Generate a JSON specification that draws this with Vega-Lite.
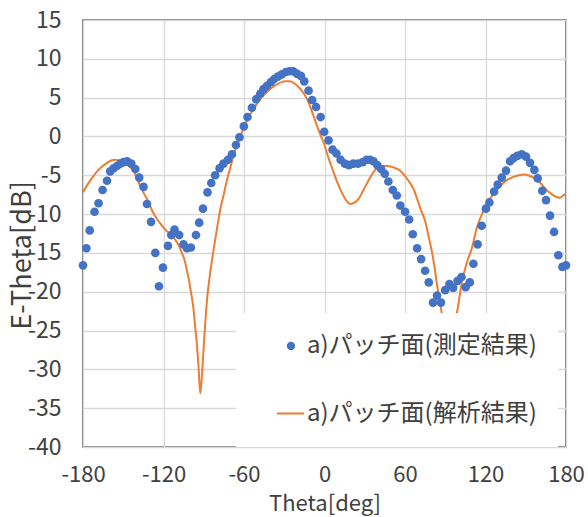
{
  "$schema": "https://vega.github.io/schema/vega-lite/v6.json",
  "width": 483,
  "height": 427,
  "autosize": "none",
  "padding": {"left": 83, "top": 20, "right": 22, "bottom": 70},
  "background": "white",
  "config": {
    "font": "Noto Sans CJK JP",
    "view": {"stroke": "#595959", "strokeWidth": 1.5},
    "axis": {
      "grid": true,
      "gridColor": "#d9d9d9",
      "gridWidth": 1.3,
      "domain": false,
      "ticks": false,
      "labelFlush": false,
      "labelOverlap": false,
      "labelBound": false,
      "labelFontSize": 23,
      "labelColor": "#404040",
      "labelFont": "Noto Sans CJK JP",
      "titleFont": "Noto Sans CJK JP",
      "titleFontSize": 23,
      "titleFontWeight": "normal",
      "titleColor": "#404040"
    },
    "legend": {
      "labelFont": "Noto Sans CJK JP",
      "labelFontSize": 24,
      "labelColor": "#404040",
      "labelLimit": 400,
      "fillColor": "white",
      "strokeColor": null,
      "orient": "none"
    }
  },
  "datasets": {
    "measured": [
      {"theta": -180, "db": -16.6}, {"theta": -177.5, "db": -14.4}, {"theta": -175, "db": -12.1},
      {"theta": -171.4, "db": -9.7}, {"theta": -168.4, "db": -8.6}, {"theta": -165.4, "db": -6.9},
      {"theta": -162.1, "db": -5.7}, {"theta": -159.7, "db": -4.5}, {"theta": -157.2, "db": -4.1},
      {"theta": -154.7, "db": -3.8}, {"theta": -152.2, "db": -3.5}, {"theta": -149.8, "db": -3.3},
      {"theta": -147.2, "db": -3.2}, {"theta": -144.0, "db": -3.5}, {"theta": -141.0, "db": -4.2},
      {"theta": -138.1, "db": -5.3}, {"theta": -134.9, "db": -6.5}, {"theta": -132.3, "db": -8.7},
      {"theta": -129.3, "db": -11.0}, {"theta": -126.1, "db": -15.0}, {"theta": -123.4, "db": -19.3},
      {"theta": -120.4, "db": -16.9}, {"theta": -116.7, "db": -14.1}, {"theta": -114.2, "db": -12.7},
      {"theta": -111.8, "db": -12.0}, {"theta": -108.3, "db": -12.7}, {"theta": -105.1, "db": -13.9},
      {"theta": -102.5, "db": -14.4}, {"theta": -99.6, "db": -14.3}, {"theta": -95.8, "db": -12.7},
      {"theta": -93.4, "db": -11.1}, {"theta": -90.6, "db": -9.3}, {"theta": -87.2, "db": -7.2},
      {"theta": -84.4, "db": -6.0}, {"theta": -81.5, "db": -5.0}, {"theta": -78.2, "db": -4.1},
      {"theta": -75.3, "db": -3.5}, {"theta": -72.0, "db": -3.0}, {"theta": -69.0, "db": -2.3},
      {"theta": -66.0, "db": -1.1}, {"theta": -63.4, "db": -0.1}, {"theta": -60.1, "db": 1.3},
      {"theta": -57.4, "db": 2.5}, {"theta": -54.1, "db": 3.7}, {"theta": -50.9, "db": 4.8},
      {"theta": -47.9, "db": 5.5}, {"theta": -45.5, "db": 6.1}, {"theta": -43.0, "db": 6.5},
      {"theta": -40.0, "db": 7.0}, {"theta": -37.5, "db": 7.4}, {"theta": -34.8, "db": 7.7},
      {"theta": -31.8, "db": 8.0}, {"theta": -28.8, "db": 8.3}, {"theta": -26.1, "db": 8.4},
      {"theta": -23.4, "db": 8.4}, {"theta": -20.6, "db": 8.1}, {"theta": -17.6, "db": 7.8},
      {"theta": -15.1, "db": 7.1}, {"theta": -11.9, "db": 5.9}, {"theta": -9.2, "db": 4.7},
      {"theta": -6.3, "db": 3.8}, {"theta": -2.9, "db": 2.5}, {"theta": -0.2, "db": 0.6},
      {"theta": 3.0, "db": -0.5}, {"theta": 6.0, "db": -1.7}, {"theta": 8.9, "db": -2.2},
      {"theta": 12.0, "db": -3.0}, {"theta": 15.2, "db": -3.5}, {"theta": 18.2, "db": -3.7},
      {"theta": 21.5, "db": -3.5}, {"theta": 25.0, "db": -3.5}, {"theta": 28.5, "db": -3.3},
      {"theta": 31.5, "db": -3.0}, {"theta": 34.0, "db": -3.0}, {"theta": 36.5, "db": -3.2},
      {"theta": 39.4, "db": -3.7}, {"theta": 42.2, "db": -4.2}, {"theta": 44.9, "db": -4.8},
      {"theta": 47.6, "db": -5.8}, {"theta": 50.9, "db": -6.9}, {"theta": 53.9, "db": -7.6},
      {"theta": 56.5, "db": -8.9}, {"theta": 60.1, "db": -9.7}, {"theta": 63.1, "db": -10.7},
      {"theta": 65.8, "db": -12.6}, {"theta": 69.0, "db": -14.4}, {"theta": 72.0, "db": -15.8},
      {"theta": 75.0, "db": -17.3}, {"theta": 77.7, "db": -18.8}, {"theta": 80.9, "db": -21.4},
      {"theta": 83.9, "db": -20.5}, {"theta": 86.8, "db": -21.4}, {"theta": 89.9, "db": -19.8},
      {"theta": 93.1, "db": -19.0}, {"theta": 95.9, "db": -19.5}, {"theta": 99.2, "db": -18.6},
      {"theta": 102.1, "db": -18.1}, {"theta": 105.2, "db": -19.4}, {"theta": 108.3, "db": -18.8},
      {"theta": 111.0, "db": -16.4}, {"theta": 114.1, "db": -13.9}, {"theta": 117.2, "db": -11.5},
      {"theta": 120.3, "db": -9.3}, {"theta": 122.9, "db": -8.5}, {"theta": 126.4, "db": -7.1},
      {"theta": 129.1, "db": -6.2}, {"theta": 132.1, "db": -5.3}, {"theta": 135.3, "db": -4.4},
      {"theta": 138.3, "db": -3.2}, {"theta": 140.8, "db": -2.8}, {"theta": 143.7, "db": -2.5},
      {"theta": 147.0, "db": -2.3}, {"theta": 150.2, "db": -2.6}, {"theta": 153.2, "db": -3.4},
      {"theta": 156.4, "db": -4.3}, {"theta": 158.9, "db": -5.4}, {"theta": 162.3, "db": -7.0},
      {"theta": 165.1, "db": -8.2}, {"theta": 168.1, "db": -10.2}, {"theta": 171.1, "db": -12.3},
      {"theta": 174.3, "db": -15.3}, {"theta": 177.3, "db": -16.8}, {"theta": 180, "db": -16.6}
    ],
    "analysis": [
      {"theta": -180, "db": -7.2}, {"theta": -177, "db": -6.3}, {"theta": -173, "db": -5.3},
      {"theta": -169.5, "db": -4.5}, {"theta": -166, "db": -3.9}, {"theta": -162, "db": -3.4},
      {"theta": -159, "db": -3.1}, {"theta": -156, "db": -3.0}, {"theta": -153, "db": -3.1},
      {"theta": -150, "db": -3.3}, {"theta": -146, "db": -3.8}, {"theta": -142, "db": -4.5},
      {"theta": -138.6, "db": -5.9}, {"theta": -135, "db": -7.2}, {"theta": -131, "db": -8.5},
      {"theta": -128.6, "db": -9.5}, {"theta": -125, "db": -10.6}, {"theta": -122, "db": -11.3},
      {"theta": -118.7, "db": -12.0}, {"theta": -115, "db": -12.6}, {"theta": -111.2, "db": -13.3},
      {"theta": -108.5, "db": -14.1}, {"theta": -106.3, "db": -15.0}, {"theta": -104, "db": -16.1},
      {"theta": -102.5, "db": -17.3}, {"theta": -101, "db": -18.5}, {"theta": -99.5, "db": -20.1},
      {"theta": -98, "db": -21.7}, {"theta": -96.4, "db": -24.5}, {"theta": -95, "db": -27.0},
      {"theta": -93.9, "db": -29.6}, {"theta": -92.6, "db": -33.1}, {"theta": -91.4, "db": -30.9},
      {"theta": -90.2, "db": -27.5}, {"theta": -88.9, "db": -24.1}, {"theta": -87.6, "db": -21.1},
      {"theta": -85.6, "db": -18.1}, {"theta": -82.7, "db": -14.6}, {"theta": -80, "db": -11.7},
      {"theta": -77.7, "db": -9.4}, {"theta": -75, "db": -7.4}, {"theta": -72.7, "db": -5.6},
      {"theta": -70, "db": -3.9}, {"theta": -67.8, "db": -2.4}, {"theta": -65, "db": -1.0},
      {"theta": -62.8, "db": 0.0}, {"theta": -59.5, "db": 1.4}, {"theta": -56.6, "db": 2.5},
      {"theta": -53, "db": 3.5}, {"theta": -50.4, "db": 4.2}, {"theta": -47, "db": 5.0},
      {"theta": -43, "db": 5.7}, {"theta": -39, "db": 6.3}, {"theta": -35.5, "db": 6.7},
      {"theta": -32, "db": 7.0}, {"theta": -29.3, "db": 7.1}, {"theta": -26, "db": 7.1},
      {"theta": -23, "db": 6.9}, {"theta": -19.5, "db": 6.4}, {"theta": -15.7, "db": 5.6},
      {"theta": -13, "db": 4.8}, {"theta": -10.8, "db": 3.9}, {"theta": -8.5, "db": 2.8},
      {"theta": -7.1, "db": 2.1}, {"theta": -5, "db": 1.1}, {"theta": -2.6, "db": 0.0},
      {"theta": 0, "db": -1.1}, {"theta": 1.9, "db": -2.2}, {"theta": 4.5, "db": -3.5},
      {"theta": 6.9, "db": -4.7}, {"theta": 10, "db": -6.1}, {"theta": 13.1, "db": -7.3},
      {"theta": 16, "db": -8.2}, {"theta": 19.3, "db": -8.7}, {"theta": 22.5, "db": -8.5},
      {"theta": 25.5, "db": -8.0}, {"theta": 29, "db": -6.9}, {"theta": 33, "db": -5.6},
      {"theta": 36.5, "db": -4.6}, {"theta": 40, "db": -4.0}, {"theta": 43, "db": -3.8},
      {"theta": 46.4, "db": -3.8}, {"theta": 50, "db": -3.9}, {"theta": 53, "db": -4.1},
      {"theta": 56.3, "db": -4.4}, {"theta": 60, "db": -5.1}, {"theta": 63, "db": -5.8},
      {"theta": 66.2, "db": -6.7}, {"theta": 69, "db": -8.0}, {"theta": 71.5, "db": -9.3},
      {"theta": 75, "db": -10.9}, {"theta": 78, "db": -13.2}, {"theta": 80, "db": -14.8},
      {"theta": 82, "db": -16.8}, {"theta": 83.7, "db": -18.9}, {"theta": 85.5, "db": -20.8},
      {"theta": 87.4, "db": -22.8}, {"theta": 89, "db": -25.0}, {"theta": 90.5, "db": -27.5},
      {"theta": 92, "db": -29.5}, {"theta": 93.5, "db": -27.5}, {"theta": 95, "db": -25.5},
      {"theta": 96.8, "db": -24.0}, {"theta": 98.6, "db": -22.8}, {"theta": 100.5, "db": -20.8},
      {"theta": 102.3, "db": -18.9}, {"theta": 106, "db": -16.3}, {"theta": 109.8, "db": -14.4},
      {"theta": 113.5, "db": -11.8}, {"theta": 118.4, "db": -9.6}, {"theta": 122, "db": -8.4},
      {"theta": 125.9, "db": -7.4}, {"theta": 130, "db": -6.6}, {"theta": 133.3, "db": -6.0},
      {"theta": 137, "db": -5.5}, {"theta": 140.8, "db": -5.2}, {"theta": 145, "db": -5.0},
      {"theta": 149.5, "db": -4.9}, {"theta": 153, "db": -5.1}, {"theta": 157, "db": -5.4},
      {"theta": 161, "db": -6.0}, {"theta": 164.4, "db": -6.7}, {"theta": 167.5, "db": -7.2},
      {"theta": 170.6, "db": -7.6}, {"theta": 173, "db": -7.8}, {"theta": 175.6, "db": -7.9},
      {"theta": 178, "db": -7.6}, {"theta": 180, "db": -7.3}
    ]
  },
  "encoding": {
    "x": {
      "field": "theta", "type": "quantitative",
      "scale": {"domain": [-180, 180], "nice": false, "zero": false},
      "axis": {"values": [-180, -120, -60, 0, 60, 120, 180], "labelExpr": "toString(datum.value)", "labelFontSize": 22, "title": "Theta[deg]", "titleFontSize": 22, "labelPadding": 17, "titleY": 46, "titleBaseline": "top"}
    },
    "y": {
      "field": "db", "type": "quantitative",
      "scale": {"domain": [-40, 15], "nice": false, "zero": false},
      "axis": {"values": [-40, -35, -30, -25, -20, -15, -10, -5, 0, 5, 10, 15], "tickCount": 12, "labelExpr": "toString(datum.value)", "title": "E-Theta[dB]", "labelPadding": 22, "titleFontSize": 27, "titleX": -47, "titleY": 235, "titleAngle": -90, "titleBaseline": "bottom", "titleAnchor": null}
    }
  },
  "layer": [
    {
      "data": {"name": "analysis"},
      "transform": [{"calculate": "'a)パッチ面(解析結果)'", "as": "series"}],
      "mark": {"type": "line", "strokeWidth": 2, "interpolate": "monotone", "clip": true},
      "encoding": {
        "color": {
          "field": "series", "type": "nominal",
          "scale": {"range": ["#ED7D31"]},
          "legend": {"title": null, "legendX": 153, "legendY": 358, "padding": 21, "symbolType": "stroke", "symbolSize": 729, "symbolStrokeWidth": 2, "symbolOffset": 19, "labelOffset": 2}
        }
      }
    },
    {
      "data": {"name": "measured"},
      "transform": [{"calculate": "'a)パッチ面(測定結果)'", "as": "series"}],
      "mark": {"type": "point", "filled": true, "size": 75, "opacity": 1, "shape": "circle"},
      "encoding": {
        "color": {
          "field": "series", "type": "nominal",
          "scale": {"range": ["#4472C4"]},
          "legend": {"title": null, "legendX": 153, "legendY": 293, "padding": 21, "symbolType": "circle", "symbolSize": 70, "symbolOpacity": 1, "symbolOffset": 22, "labelOffset": 4}
        }
      }
    }
  ],
  "resolve": {"scale": {"color": "independent"}, "legend": {"color": "independent"}}
}
